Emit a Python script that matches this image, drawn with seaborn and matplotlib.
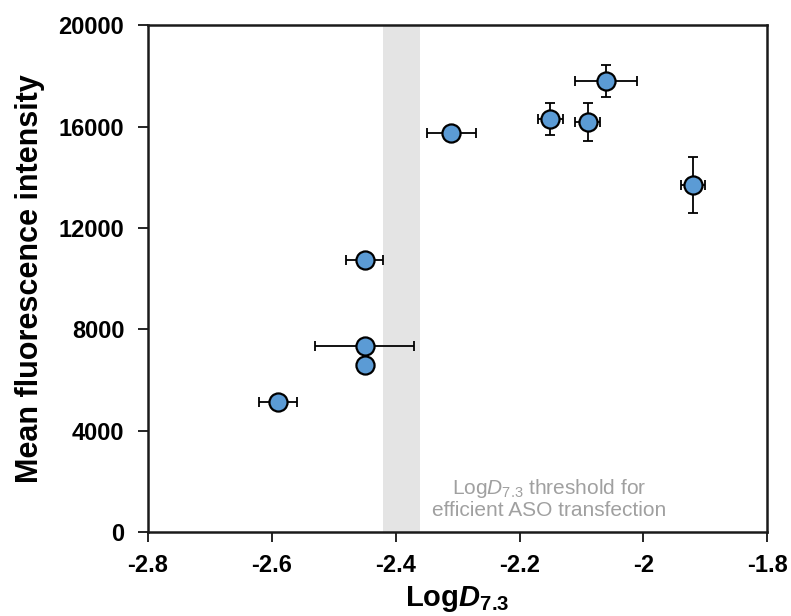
import matplotlib
matplotlib.use("Agg")
import matplotlib.pyplot as plt
import pandas as pd
import seaborn as sns

# data
logd = [-2.59, -2.45, -2.45, -2.45, -2.31, -2.15, -2.09, -2.06, -1.92]
mfi = [5150, 7350, 6600, 10750, 15750, 16300, 16180, 17800, 13700]
logd_err = [0.03, 0.08, 0.0, 0.03, 0.04, 0.02, 0.02, 0.05, 0.02]
mfi_err = [150, 150, 100, 150, 250, 630, 750, 650, 1100]

threshold = [-2.42, -2.36]
x_ticks = [-2.8, -2.6, -2.4, -2.2, -2.0, -1.8]
x_tick_labels = ["-2.8", "-2.6", "-2.4", "-2.2", "-2", "-1.8"]
y_ticks = [0, 4000, 8000, 12000, 16000, 20000]
y_tick_labels = ["0", "4000", "8000", "12000", "16000", "20000"]

sns.set_theme(style="white")
plt.rcParams["font.family"] = ["Liberation Sans", "DejaVu Sans"]
plt.rcParams["mathtext.fontset"] = "custom"
plt.rcParams["mathtext.rm"] = "Liberation Sans"
plt.rcParams["mathtext.it"] = "Liberation Sans:italic"
plt.rcParams["mathtext.bf"] = "Liberation Sans:bold"
plt.rcParams["mathtext.bfit"] = "Liberation Sans:bold:italic"
plt.rcParams["text.color"] = "black"
plt.rcParams["axes.labelcolor"] = "black"
plt.rcParams["xtick.color"] = "black"
plt.rcParams["ytick.color"] = "black"

df = pd.DataFrame({"logd": logd, "mfi": mfi, "logd_err": logd_err, "mfi_err": mfi_err})

fig = plt.figure(figsize=(7.91, 6.16), dpi=100)
ax = fig.add_axes([0.187, 0.136, 0.783, 0.823])

ax.axvspan(threshold[0], threshold[1], color="#e4e4e4", zorder=0, lw=0)

ax.errorbar(df["logd"], df["mfi"], xerr=df["logd_err"], yerr=df["mfi_err"],
            fmt="none", ecolor="black", elinewidth=1.3, capsize=3.5, capthick=1.3, zorder=2)
sns.scatterplot(data=df, x="logd", y="mfi", ax=ax, s=170, color="#5b9bd5",
                edgecolor="black", linewidth=1.6, zorder=3, legend=False)

ax.set_xlim(-2.8, -1.8)
ax.set_ylim(0, 20000)
ax.set_xticks(x_ticks)
ax.set_xticklabels(x_tick_labels, fontsize=17, fontweight="bold")
ax.set_yticks(y_ticks)
ax.set_yticklabels(y_tick_labels, fontsize=17, fontweight="bold")
ax.tick_params(axis="both", direction="out", length=7, width=1.2, color="black",
               bottom=True, left=True)
ax.tick_params(axis="x", pad=9)
ax.tick_params(axis="y", pad=10)

for side in ["left", "bottom", "top", "right"]:
    ax.spines[side].set_color("#1a1a1a")
    ax.spines[side].set_linewidth(1.8)

ax.set_xlabel(r"Log$\mathbfit{D}_{\mathbf{7.3}}$", fontsize=21, fontweight="bold", labelpad=5)
ax.set_ylabel("Mean fluorescence intensity", fontsize=22, fontweight="bold", labelpad=10)

ax.text(-2.153, 1340, r"Log$\mathit{D}_{\mathrm{7.3}}$ threshold for" + "\nefficient ASO transfection",
        ha="center", va="center", fontsize=15, color="#a0a0a0", linespacing=1.1)

fig.savefig("out.png", dpi=100)
